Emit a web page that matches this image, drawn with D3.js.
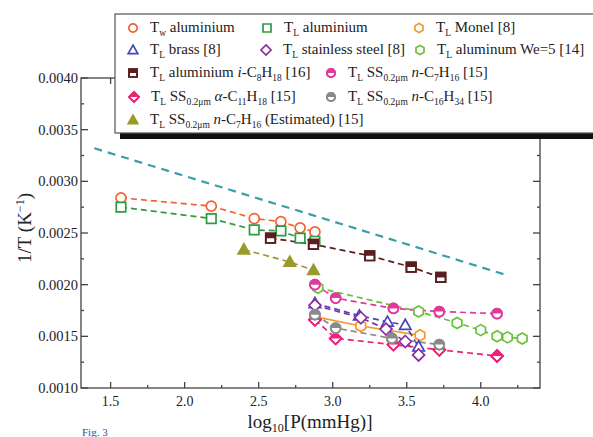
<!DOCTYPE html>
<html><head><meta charset="utf-8">
<script src="https://cdn.jsdelivr.net/npm/d3@7"></script>
<style>body{margin:0;background:#fff}svg{display:block}text{font-family:"Liberation Serif","Times New Roman",serif;fill:#222}</style>
</head><body><svg id="c" width="593" height="437"></svg>
<script>
// ---- data ----
const xTicks = [1.5, 2.0, 2.5, 3.0, 3.5, 4.0];
const yTicks = [0.0010, 0.0015, 0.0020, 0.0025, 0.0030, 0.0035, 0.0040];

const twAlX = [1.57, 2.18, 2.47, 2.65, 2.78, 2.88];
const twAlY = [0.00284, 0.00276, 0.00264, 0.00261, 0.00255, 0.00251];
const tlAlX = [1.57, 2.18, 2.47, 2.65, 2.78, 2.88];
const tlAlY = [0.00275, 0.00264, 0.00253, 0.00252, 0.00245, 0.00242];
const monelX = [2.88, 3.19, 3.59];
const monelY = [0.00169, 0.00160, 0.00151];
const brassX = [2.88, 3.18, 3.37, 3.49, 3.58];
const brassY = [0.00182, 0.00170, 0.00164, 0.00161, 0.00140];
const ssX = [2.88, 3.19, 3.36, 3.49, 3.58];
const ssY = [0.00180, 0.00168, 0.00157, 0.00145, 0.00132];
const we5X = [2.90, 3.58, 3.84, 4.00, 4.11, 4.18, 4.28];
const we5Y = [0.00197, 0.00174, 0.00163, 0.00156, 0.00150, 0.00149, 0.00148];
const iC8X = [2.58, 2.87, 3.25, 3.53, 3.73];
const iC8Y = [0.00245, 0.00239, 0.00228, 0.00217, 0.00207];
const nC7X = [2.88, 3.02, 3.41, 3.72, 4.11];
const nC7Y = [0.00200, 0.00187, 0.00177, 0.00174, 0.00172];
const aC11X = [2.88, 3.02, 3.41, 3.72, 4.11];
const aC11Y = [0.00166, 0.00148, 0.00142, 0.00137, 0.00131];
const nC16X = [2.88, 3.02, 3.40, 3.72];
const nC16Y = [0.00171, 0.00158, 0.00148, 0.00142];
const estX = [2.40, 2.71, 2.87];
const estY = [0.00234, 0.00222, 0.00214];
const tealX = [1.39, 3.12, 4.18];
const tealY = [0.00332, 0.00256, 0.00209];

// label parts: [text, kind] kind: n normal, s subscript, i italic, p superscript
const labels = [
  [["T","n"],["w","s"],[" aluminium","n"]],
  [["T","n"],["L","s"],[" aluminium","n"]],
  [["T","n"],["L","s"],[" Monel [8]","n"]],
  [["T","n"],["L","s"],[" brass [8]","n"]],
  [["T","n"],["L","s"],[" stainless steel [8]","n"]],
  [["T","n"],["L","s"],[" aluminum We=5 [14]","n"]],
  [["T","n"],["L","s"],[" aluminium ","n"],["i","i"],["-C","n"],["8","s"],["H","n"],["18","s"],[" [16]","n"]],
  [["T","n"],["L","s"],[" SS","n"],["0.2μm","s"],[" ","n"],["n","i"],["-C","n"],["7","s"],["H","n"],["16","s"],[" [15]","n"]],
  [["T","n"],["L","s"],[" SS","n"],["0.2μm","s"],[" ","n"],["α","i"],["-C","n"],["11","s"],["H","n"],["18","s"],[" [15]","n"]],
  [["T","n"],["L","s"],[" SS","n"],["0.2μm","s"],[" ","n"],["n","i"],["-C","n"],["16","s"],["H","n"],["34","s"],[" [15]","n"]],
  [["T","n"],["L","s"],[" SS","n"],["0.2μm","s"],[" ","n"],["n","i"],["-C","n"],["7","s"],["H","n"],["16","s"],[" (Estimated) [15]","n"]]
];

const series = [
  {x: twAlX, y: twAlY, color: "#f2622e", shape: "circle", fill: "none", line: "dash"},
  {x: tlAlX, y: tlAlY, color: "#2f9a44", shape: "square", fill: "none", line: "dash"},
  {x: monelX, y: monelY, color: "#f49a2c", shape: "hexagon", fill: "none", line: "solid"},
  {x: brassX, y: brassY, color: "#4646b8", shape: "triangle", fill: "none", line: "dash"},
  {x: ssX, y: ssY, color: "#8a2ea0", shape: "diamond", fill: "none", line: "dash"},
  {x: we5X, y: we5Y, color: "#66c236", shape: "hexagon", fill: "none", line: "dash"},
  {x: iC8X, y: iC8Y, color: "#5a1e1e", shape: "square", fill: "half", line: "dash"},
  {x: nC7X, y: nC7Y, color: "#e03a9e", shape: "circle", fill: "half", line: "dash"},
  {x: aC11X, y: aC11Y, color: "#ee2277", shape: "diamond", fill: "half", line: "dash"},
  {x: nC16X, y: nC16Y, color: "#8a8a8a", shape: "circle", fill: "half", line: "dash"},
  {x: estX, y: estY, color: "#9a9a2c", shape: "triangle", fill: "full", line: "dash"}
];

// ---- drawing ----
const svg = d3.select("#c");
const L = 81, R = 540, T = 78, B = 388;
const x = d3.scaleLinear().domain([1.3, 4.4]).range([L, R]);
const y = d3.scaleLinear().domain([0.001, 0.004]).range([B, T]);

const defs = svg.append("defs");
defs.append("clipPath").attr("id","tophalf").attr("clipPathUnits","objectBoundingBox")
  .append("rect").attr("x",-0.2).attr("y",-0.2).attr("width",1.4).attr("height",0.7);

function shapePath(shape, r) {
  const p = [];
  if (shape === "circle") return d3.symbol(d3.symbolCircle, Math.PI*r*r)();
  if (shape === "square") { const s=r*0.95; return `M${-s},${-s}H${s}V${s}H${-s}Z`; }
  if (shape === "triangle") { const s=r*1.15; return `M0,${-s}L${s},${s*0.75}L${-s},${s*0.75}Z`; }
  if (shape === "diamond") { const s=r*1.2; return `M0,${-s}L${s},0L0,${s}L${-s},0Z`; }
  if (shape === "hexagon") {
    for (let i=0;i<6;i++){const a=Math.PI/3*i+Math.PI/6; p.push([r*1.1*Math.cos(a), r*1.1*Math.sin(a)]);}
    return "M"+p.map(d=>d.join(",")).join("L")+"Z";
  }
}
function drawMarker(g, s, cx, cy, r) {
  const d = shapePath(s.shape, r);
  const m = g.append("g").attr("transform",`translate(${cx},${cy})`);
  m.append("path").attr("d", d).attr("fill", s.fill === "full" ? s.color : "#fff")
    .attr("stroke", s.color).attr("stroke-width", 1.7);
  if (s.fill === "half") {
    m.append("path").attr("d", d).attr("fill", s.color).attr("clip-path","url(#tophalf)");
    m.append("path").attr("d", d).attr("fill","none").attr("stroke", s.color).attr("stroke-width",1.7);
  }
}

// frame
const ax = svg.append("g").attr("stroke","#444").attr("stroke-width",1.3);
ax.append("rect").attr("x",L).attr("y",T).attr("width",R-L).attr("height",B-T).attr("fill","none");
const xMinor = d3.range(1.5, 4.3, 0.25);
const yMinor = d3.range(0.001, 0.00401, 0.00025);
xMinor.forEach((v,i) => {
  const len = (Math.abs((v*2) - Math.round(v*2)) < 1e-6) ? 6 : 3;
  ax.append("line").attr("x1",x(v)).attr("x2",x(v)).attr("y1",B).attr("y2",B-len);
  ax.append("line").attr("x1",x(v)).attr("x2",x(v)).attr("y1",T).attr("y2",T+len);
});
yMinor.forEach(v => {
  const len = (Math.abs(v*2000 - Math.round(v*2000)) < 1e-6) ? 7 : 3;
  ax.append("line").attr("x1",L).attr("x2",L+len).attr("y1",y(v)).attr("y2",y(v));
  ax.append("line").attr("x1",R).attr("x2",R-len).attr("y1",y(v)).attr("y2",y(v));
});
svg.append("g").selectAll("text").data(xTicks).join("text")
  .attr("x", d=>x(d)).attr("y", B+18).attr("text-anchor","middle").attr("font-size",14)
  .text(d=>d3.format(".1f")(d));
svg.append("g").selectAll("text").data(yTicks).join("text")
  .attr("x", L-3).attr("y", d=>y(d)+5).attr("text-anchor","end").attr("font-size",14.5)
  .text(d=>d3.format(".4f")(d));

// axis titles
const yt = svg.append("text").attr("transform","translate(31,228) rotate(-90)")
  .attr("text-anchor","middle").attr("font-size",19);
yt.append("tspan").text("1/T (K");
yt.append("tspan").attr("font-size",12).attr("dy",-7).text("−1");
yt.append("tspan").attr("dy",7).text(")");
const xt = svg.append("text").attr("x",310).attr("y",428).attr("text-anchor","middle").attr("font-size",19);
xt.append("tspan").text("log");
xt.append("tspan").attr("font-size",12).attr("dy",4).text("10");
xt.append("tspan").attr("dy",-4).text("[P(mmHg)]");
svg.append("text").attr("x",82).attr("y",436).attr("font-size",11).style("fill","#1f4f9a").text("Fig. 3");

// teal line
const line = d3.line().x(d=>x(d[0])).y(d=>y(d[1]));
svg.append("path").attr("d", line(d3.zip(tealX, tealY))).attr("fill","none")
  .attr("stroke","#3a9ea6").attr("stroke-width",2.2).attr("stroke-dasharray","8,6");

// series lines
const plot = svg.append("g");
series.forEach(s => {
  plot.append("path").attr("d", line(d3.zip(s.x, s.y))).attr("fill","none")
    .attr("stroke", s.color).attr("stroke-width", 1.7)
    .attr("stroke-dasharray", s.line === "solid" ? null : "6,4");
});
series.forEach(s => {
  d3.zip(s.x, s.y).forEach(d => drawMarker(plot, s, x(d[0]), y(d[1]), 5));
});

// legend
const lg = svg.append("g");
lg.append("rect").attr("x",120).attr("y",20).attr("width",490).attr("height",119).attr("fill","#111");
lg.append("rect").attr("x",115).attr("y",14).attr("width",490).attr("height",119)
  .attr("fill","#fff").attr("stroke","#555").attr("stroke-width",1.2);
const rowsY = [32, 54, 77, 101, 124];
const pos = [
  [0,133],[0,267],[0,419],
  [1,133],[1,266],[1,420],
  [2,133],[2,331],
  [3,134],[3,331],
  [4,133]
];
labels.forEach((parts, i) => {
  const [r, sx] = pos[i];
  const cy = rowsY[r];
  drawMarker(lg, series[i], sx, cy - 4, 4.2);
  const t = lg.append("text").attr("x", sx + 17).attr("y", cy).attr("font-size",15);
  let shift = 0;
  parts.forEach(([txt, kind]) => {
    const ts = t.append("tspan").text(txt);
    let target = 0;
    if (kind === "s") { ts.attr("font-size",9.5); target = 4; }
    if (kind === "p") { ts.attr("font-size",9.5); target = -6; }
    if (kind === "i") ts.attr("font-style","italic");
    if (target !== shift) { ts.attr("dy", target - shift); shift = target; }
  });
});
</script></body></html>
